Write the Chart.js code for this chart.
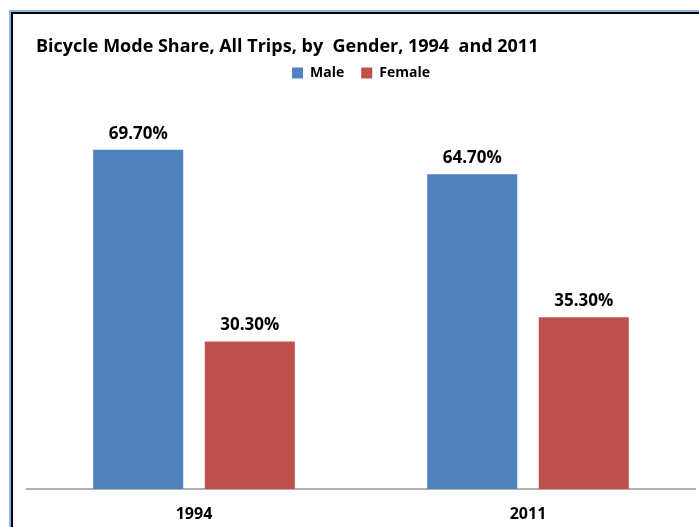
<!DOCTYPE html>
<html>
<head>
<meta charset="utf-8">
<script src="https://cdn.jsdelivr.net/npm/chart.js@4.4.0/dist/chart.umd.min.js"></script>
<style>
  body { margin: 0; background: #fff; }
  #wrap { position: absolute; left: 0; top: 0; width: 699px; height: 527px; }
</style>
</head>
<body>
<div id="wrap"><canvas id="modeShareChart" width="699" height="527"></canvas></div>
<script>
// chart data
const years = ['1994', '2011'];
const maleShare = [69.7, 64.7];
const femaleShare = [30.3, 35.3];
const chartTitle = 'Bicycle Mode Share, All Trips, by  Gender, 1994  and 2011';

const fontFamily = '"Open Sans", Lato, sans-serif';

// frame lines + title in the top left corner
const framePlugin = {
    id: 'frame',
    beforeDraw(chart) {
        const ctx = chart.ctx;
        ctx.save();
        ctx.fillStyle = '#fff';
        ctx.fillRect(0, 0, chart.width, chart.height);
        ctx.fillStyle = '#8eb4e3';
        ctx.fillRect(9, 10, chart.width, 2);
        ctx.fillRect(9, 10, 2, chart.height);
        ctx.fillStyle = '#000';
        ctx.fillRect(11, 12, chart.width, 2);
        ctx.fillRect(11, 12, 2, chart.height);
        ctx.font = 'bold 18px ' + fontFamily;
        ctx.fillStyle = '#000';
        ctx.textBaseline = 'middle';
        ctx.fillText(chartTitle, 36, 47);
        ctx.restore();
    }
};

// percentage labels on top of each bar
const valueLabels = {
    id: 'valueLabels',
    afterDatasetsDraw(chart) {
        const ctx = chart.ctx;
        ctx.save();
        ctx.font = 'bold 17px ' + fontFamily;
        ctx.fillStyle = '#000';
        ctx.textAlign = 'center';
        ctx.textBaseline = 'middle';
        chart.data.datasets.forEach((ds, i) => {
            chart.getDatasetMeta(i).data.forEach((bar, j) => {
                ctx.fillText(ds.data[j].toFixed(2) + '%', bar.x, bar.y - 16);
            });
        });
        ctx.restore();
    }
};

new Chart(document.getElementById('modeShareChart').getContext('2d'), {
    type: 'bar',
    data: {
        labels: years,
        datasets: [{
            label: 'Male',
            data: maleShare,
            backgroundColor: '#4f81bd',
            categoryPercentage: 0.668,
            barPercentage: 0.807
        }, {
            label: 'Female',
            data: femaleShare,
            backgroundColor: '#c0504d',
            categoryPercentage: 0.668,
            barPercentage: 0.807
        }]
    },
    options: {
        responsive: false,
        animation: false,
        layout: { padding: { left: 27, right: 4, top: 49, bottom: 0 } },
        plugins: {
            title: { display: false },
            tooltip: { enabled: false },
            legend: {
                position: 'top',
                labels: {
                    boxWidth: 11,
                    boxHeight: 11,
                    padding: 17,
                    color: '#000',
                    font: { family: fontFamily, size: 14, weight: 'bold' }
                }
            }
        },
        scales: {
            x: {
                grid: { display: false },
                border: { color: '#b0b0b0', width: 2 },
                afterFit(axis) { axis.height = 38; },
                ticks: {
                    color: '#000',
                    padding: 8,
                    font: { family: fontFamily, size: 16, weight: 'bold' }
                }
            },
            y: {
                display: false,
                min: 0,
                max: 82
            }
        }
    },
    plugins: [framePlugin, valueLabels]
});
</script>
</body>
</html>
